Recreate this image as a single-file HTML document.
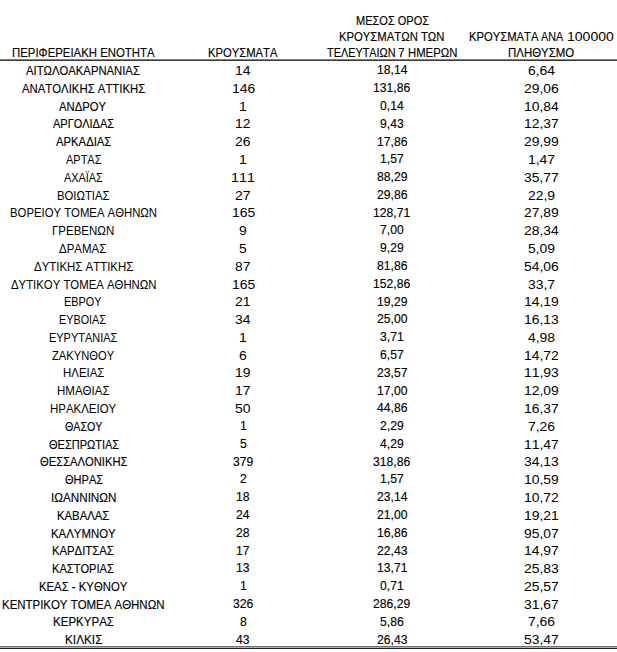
<!DOCTYPE html>
<html><head><meta charset="utf-8"><style>
html,body{margin:0;padding:0;background:#fff;}
body{width:617px;height:652px;position:relative;overflow:hidden;font-family:"Liberation Sans",sans-serif;font-size:13px;line-height:16px;color:#000;font-kerning:none;}
.t{position:absolute;white-space:pre;transform-origin:0 0;}
.c{-webkit-text-stroke:0.15px #000;}
.l{position:absolute;left:0;width:617px;height:1px;}
</style></head><body>
<div class="t c" style="left:11.60px;top:45px;transform:scaleX(0.8754)">ΠΕΡΙΦΕΡΕΙΑΚΗ ΕΝΟΤΗΤΑ</div>
<div class="t c" style="left:207.96px;top:45px;transform:scaleX(0.8651)">ΚΡΟΥΣΜΑΤΑ</div>
<div class="t c" style="left:355.53px;top:13px;transform:scaleX(0.8467)">ΜΕΣΟΣ ΟΡΟΣ</div>
<div class="t c" style="left:339.41px;top:29px;transform:scaleX(0.8685)">ΚΡΟΥΣΜΑΤΩΝ ΤΩΝ</div>
<div class="t c" style="left:326.53px;top:45px;transform:scaleX(0.8357)">ΤΕΛΕΥΤΑΙΩΝ</div>
<div class="t c" style="left:398.18px;top:45px;transform:scaleX(0.9152)">7</div>
<div class="t c" style="left:408.40px;top:45px;transform:scaleX(0.8711)">ΗΜΕΡΩΝ</div>
<div class="t c" style="left:468.71px;top:29px;transform:scaleX(0.8645)">ΚΡΟΥΣΜΑΤΑ</div>
<div class="t c" style="left:541.43px;top:29px;transform:scaleX(0.8282)">ΑΝΑ</div>
<div class="t" style="left:567.24px;top:29px;transform:scaleX(1.0790)">100000</div>
<div class="t c" style="left:508.10px;top:45px;transform:scaleX(0.8786)">ΠΛΗΘΥΣΜΟ</div>
<div class="t c" style="left:26.23px;top:63px;transform:scaleX(0.8680)">ΑΙΤΩΛΟΑΚΑΡΝΑΝΙΑΣ</div>
<div class="t" style="left:235.41px;top:63px;transform:scaleX(1.0700)">14</div>
<div class="t c" style="left:376.68px;top:62px;transform:scaleX(0.9350)">18,14</div>
<div class="t" style="left:528.01px;top:63px;transform:scaleX(1.0700)">6,64</div>
<div class="t c" style="left:21.53px;top:81px;transform:scaleX(0.8735)">ΑΝΑΤΟΛΙΚΗΣ ΑΤΤΙΚΗΣ</div>
<div class="t" style="left:231.54px;top:81px;transform:scaleX(1.0700)">146</div>
<div class="t c" style="left:373.31px;top:80px;transform:scaleX(0.9350)">131,86</div>
<div class="t" style="left:524.14px;top:81px;transform:scaleX(1.0700)">29,06</div>
<div class="t c" style="left:59.23px;top:99px;transform:scaleX(0.8674)">ΑΝΔΡΟΥ</div>
<div class="t" style="left:239.28px;top:99px;transform:scaleX(1.0700)">1</div>
<div class="t c" style="left:380.07px;top:98px;transform:scaleX(0.9350)">0,14</div>
<div class="t" style="left:524.14px;top:99px;transform:scaleX(1.0700)">10,84</div>
<div class="t c" style="left:52.93px;top:116px;transform:scaleX(0.8446)">ΑΡΓΟΛΙΔΑΣ</div>
<div class="t" style="left:235.41px;top:116px;transform:scaleX(1.0700)">12</div>
<div class="t c" style="left:380.07px;top:116px;transform:scaleX(0.9350)">9,43</div>
<div class="t" style="left:524.14px;top:116px;transform:scaleX(1.0700)">12,37</div>
<div class="t c" style="left:55.93px;top:134px;transform:scaleX(0.8690)">ΑΡΚΑΔΙΑΣ</div>
<div class="t" style="left:235.41px;top:134px;transform:scaleX(1.0700)">26</div>
<div class="t c" style="left:376.68px;top:134px;transform:scaleX(0.9350)">17,86</div>
<div class="t" style="left:524.14px;top:134px;transform:scaleX(1.0700)">29,99</div>
<div class="t" style="left:65.63px;top:152px;transform:scaleX(0.8443)">ΑΡΤΑΣ</div>
<div class="t" style="left:239.28px;top:152px;transform:scaleX(1.0700)">1</div>
<div class="t c" style="left:380.07px;top:151px;transform:scaleX(0.9350)">1,57</div>
<div class="t" style="left:528.01px;top:152px;transform:scaleX(1.0700)">1,47</div>
<div class="t" style="left:63.93px;top:170px;transform:scaleX(0.8372)">ΑΧΑΪΑΣ</div>
<div class="t" style="left:230.92px;top:170px;transform:scaleX(1.1051)">111</div>
<div class="t c" style="left:376.68px;top:169px;transform:scaleX(0.9350)">88,29</div>
<div class="t" style="left:524.14px;top:170px;transform:scaleX(1.0700)">35,77</div>
<div class="t" style="left:57.10px;top:188px;transform:scaleX(0.8706)">ΒΟΙΩΤΙΑΣ</div>
<div class="t" style="left:235.41px;top:188px;transform:scaleX(1.0700)">27</div>
<div class="t c" style="left:376.68px;top:187px;transform:scaleX(0.9350)">29,86</div>
<div class="t" style="left:528.01px;top:188px;transform:scaleX(1.0700)">22,9</div>
<div class="t" style="left:9.70px;top:205px;transform:scaleX(0.8719)">ΒΟΡΕΙΟΥ ΤΟΜΕΑ ΑΘΗΝΩΝ</div>
<div class="t" style="left:231.54px;top:205px;transform:scaleX(1.0700)">165</div>
<div class="t c" style="left:373.31px;top:205px;transform:scaleX(0.9350)">128,71</div>
<div class="t" style="left:524.14px;top:205px;transform:scaleX(1.0700)">27,89</div>
<div class="t" style="left:51.59px;top:223px;transform:scaleX(0.8845)">ΓΡΕΒΕΝΩΝ</div>
<div class="t" style="left:239.28px;top:223px;transform:scaleX(1.0700)">9</div>
<div class="t c" style="left:380.07px;top:222px;transform:scaleX(0.9350)">7,00</div>
<div class="t" style="left:524.14px;top:223px;transform:scaleX(1.0700)">28,34</div>
<div class="t" style="left:59.21px;top:241px;transform:scaleX(0.8818)">ΔΡΑΜΑΣ</div>
<div class="t" style="left:239.28px;top:241px;transform:scaleX(1.0700)">5</div>
<div class="t c" style="left:380.07px;top:240px;transform:scaleX(0.9350)">9,29</div>
<div class="t" style="left:528.01px;top:241px;transform:scaleX(1.0700)">5,09</div>
<div class="t" style="left:33.91px;top:259px;transform:scaleX(0.8801)">ΔΥΤΙΚΗΣ ΑΤΤΙΚΗΣ</div>
<div class="t" style="left:235.41px;top:259px;transform:scaleX(1.0700)">87</div>
<div class="t c" style="left:376.68px;top:258px;transform:scaleX(0.9350)">81,86</div>
<div class="t" style="left:524.14px;top:259px;transform:scaleX(1.0700)">54,06</div>
<div class="t" style="left:10.51px;top:277px;transform:scaleX(0.8741)">ΔΥΤΙΚΟΥ ΤΟΜΕΑ ΑΘΗΝΩΝ</div>
<div class="t" style="left:231.54px;top:277px;transform:scaleX(1.0700)">165</div>
<div class="t c" style="left:373.31px;top:276px;transform:scaleX(0.9350)">152,86</div>
<div class="t" style="left:528.01px;top:277px;transform:scaleX(1.0700)">33,7</div>
<div class="t" style="left:64.03px;top:294px;transform:scaleX(0.8379)">ΕΒΡΟΥ</div>
<div class="t" style="left:235.41px;top:294px;transform:scaleX(1.0700)">21</div>
<div class="t c" style="left:376.68px;top:294px;transform:scaleX(0.9350)">19,29</div>
<div class="t" style="left:524.14px;top:294px;transform:scaleX(1.0700)">14,19</div>
<div class="t" style="left:59.34px;top:312px;transform:scaleX(0.8324)">ΕΥΒΟΙΑΣ</div>
<div class="t" style="left:235.41px;top:312px;transform:scaleX(1.0700)">34</div>
<div class="t c" style="left:376.68px;top:311px;transform:scaleX(0.9350)">25,00</div>
<div class="t" style="left:524.14px;top:312px;transform:scaleX(1.0700)">16,13</div>
<div class="t" style="left:48.83px;top:330px;transform:scaleX(0.8428)">ΕΥΡΥΤΑΝΙΑΣ</div>
<div class="t" style="left:239.28px;top:330px;transform:scaleX(1.0700)">1</div>
<div class="t c" style="left:380.07px;top:329px;transform:scaleX(0.9350)">3,71</div>
<div class="t" style="left:528.01px;top:330px;transform:scaleX(1.0700)">4,98</div>
<div class="t" style="left:51.81px;top:348px;transform:scaleX(0.8606)">ΖΑΚΥΝΘΟΥ</div>
<div class="t" style="left:239.28px;top:348px;transform:scaleX(1.0700)">6</div>
<div class="t c" style="left:380.07px;top:347px;transform:scaleX(0.9350)">6,57</div>
<div class="t" style="left:524.14px;top:348px;transform:scaleX(1.0700)">14,72</div>
<div class="t" style="left:62.60px;top:365px;transform:scaleX(0.8786)">ΗΛΕΙΑΣ</div>
<div class="t" style="left:235.41px;top:365px;transform:scaleX(1.0700)">19</div>
<div class="t c" style="left:376.68px;top:365px;transform:scaleX(0.9350)">23,57</div>
<div class="t" style="left:524.14px;top:365px;transform:scaleX(1.0700)">11,93</div>
<div class="t" style="left:57.09px;top:383px;transform:scaleX(0.8856)">ΗΜΑΘΙΑΣ</div>
<div class="t" style="left:235.41px;top:383px;transform:scaleX(1.0700)">17</div>
<div class="t c" style="left:376.68px;top:383px;transform:scaleX(0.9350)">17,00</div>
<div class="t" style="left:524.14px;top:383px;transform:scaleX(1.0700)">12,09</div>
<div class="t" style="left:50.19px;top:401px;transform:scaleX(0.8811)">ΗΡΑΚΛΕΙΟΥ</div>
<div class="t" style="left:235.41px;top:401px;transform:scaleX(1.0700)">50</div>
<div class="t c" style="left:376.68px;top:400px;transform:scaleX(0.9350)">44,86</div>
<div class="t" style="left:524.14px;top:401px;transform:scaleX(1.0700)">16,37</div>
<div class="t c" style="left:64.80px;top:419px;transform:scaleX(0.8223)">ΘΑΣΟΥ</div>
<div class="t c" style="left:239.77px;top:418px;transform:scaleX(0.9350)">1</div>
<div class="t c" style="left:380.07px;top:418px;transform:scaleX(0.9350)">2,29</div>
<div class="t" style="left:528.01px;top:419px;transform:scaleX(1.0700)">7,26</div>
<div class="t c" style="left:48.80px;top:437px;transform:scaleX(0.8462)">ΘΕΣΠΡΩΤΙΑΣ</div>
<div class="t c" style="left:239.77px;top:436px;transform:scaleX(0.9350)">5</div>
<div class="t c" style="left:380.07px;top:436px;transform:scaleX(0.9350)">4,29</div>
<div class="t" style="left:524.14px;top:437px;transform:scaleX(1.0700)">11,47</div>
<div class="t c" style="left:40.00px;top:454px;transform:scaleX(0.8628)">ΘΕΣΣΑΛΟΝΙΚΗΣ</div>
<div class="t c" style="left:233.00px;top:454px;transform:scaleX(0.9350)">379</div>
<div class="t c" style="left:373.31px;top:454px;transform:scaleX(0.9350)">318,86</div>
<div class="t" style="left:524.14px;top:454px;transform:scaleX(1.0700)">34,13</div>
<div class="t c" style="left:64.80px;top:472px;transform:scaleX(0.8497)">ΘΗΡΑΣ</div>
<div class="t c" style="left:239.77px;top:471px;transform:scaleX(0.9350)">2</div>
<div class="t c" style="left:380.07px;top:471px;transform:scaleX(0.9350)">1,57</div>
<div class="t" style="left:524.14px;top:472px;transform:scaleX(1.0700)">10,59</div>
<div class="t c" style="left:50.94px;top:490px;transform:scaleX(0.8982)">ΙΩΑΝΝΙΝΩΝ</div>
<div class="t c" style="left:236.39px;top:489px;transform:scaleX(0.9350)">18</div>
<div class="t c" style="left:376.68px;top:489px;transform:scaleX(0.9350)">23,14</div>
<div class="t" style="left:524.14px;top:490px;transform:scaleX(1.0700)">10,72</div>
<div class="t c" style="left:57.10px;top:508px;transform:scaleX(0.8715)">ΚΑΒΑΛΑΣ</div>
<div class="t c" style="left:236.39px;top:507px;transform:scaleX(0.9350)">24</div>
<div class="t c" style="left:376.68px;top:507px;transform:scaleX(0.9350)">21,00</div>
<div class="t" style="left:524.14px;top:508px;transform:scaleX(1.0700)">19,21</div>
<div class="t c" style="left:51.00px;top:526px;transform:scaleX(0.8766)">ΚΑΛΥΜΝΟΥ</div>
<div class="t c" style="left:236.39px;top:525px;transform:scaleX(0.9350)">28</div>
<div class="t c" style="left:376.68px;top:525px;transform:scaleX(0.9350)">16,86</div>
<div class="t" style="left:524.14px;top:526px;transform:scaleX(1.0700)">95,07</div>
<div class="t c" style="left:52.11px;top:543px;transform:scaleX(0.8688)">ΚΑΡΔΙΤΣΑΣ</div>
<div class="t c" style="left:236.39px;top:543px;transform:scaleX(0.9350)">17</div>
<div class="t c" style="left:376.68px;top:543px;transform:scaleX(0.9350)">22,43</div>
<div class="t" style="left:524.14px;top:543px;transform:scaleX(1.0700)">14,97</div>
<div class="t c" style="left:52.12px;top:561px;transform:scaleX(0.8546)">ΚΑΣΤΟΡΙΑΣ</div>
<div class="t c" style="left:236.39px;top:560px;transform:scaleX(0.9350)">13</div>
<div class="t c" style="left:376.68px;top:560px;transform:scaleX(0.9350)">13,71</div>
<div class="t" style="left:524.14px;top:561px;transform:scaleX(1.0700)">25,83</div>
<div class="t c" style="left:39.20px;top:579px;transform:scaleX(0.8720)">ΚΕΑΣ - ΚΥΘΝΟΥ</div>
<div class="t c" style="left:239.77px;top:578px;transform:scaleX(0.9350)">1</div>
<div class="t c" style="left:380.07px;top:578px;transform:scaleX(0.9350)">0,71</div>
<div class="t" style="left:524.14px;top:579px;transform:scaleX(1.0700)">25,57</div>
<div class="t c" style="left:2.00px;top:597px;transform:scaleX(0.8804)">ΚΕΝΤΡΙΚΟΥ ΤΟΜΕΑ ΑΘΗΝΩΝ</div>
<div class="t c" style="left:233.00px;top:596px;transform:scaleX(0.9350)">326</div>
<div class="t c" style="left:373.31px;top:596px;transform:scaleX(0.9350)">286,29</div>
<div class="t" style="left:524.14px;top:597px;transform:scaleX(1.0700)">31,67</div>
<div class="t c" style="left:52.89px;top:614px;transform:scaleX(0.8866)">ΚΕΡΚΥΡΑΣ</div>
<div class="t c" style="left:239.77px;top:614px;transform:scaleX(0.9350)">8</div>
<div class="t c" style="left:380.07px;top:614px;transform:scaleX(0.9350)">5,86</div>
<div class="t" style="left:528.01px;top:614px;transform:scaleX(1.0700)">7,66</div>
<div class="t c" style="left:64.77px;top:632px;transform:scaleX(0.9065)">ΚΙΛΚΙΣ</div>
<div class="t c" style="left:236.39px;top:632px;transform:scaleX(0.9350)">43</div>
<div class="t c" style="left:376.68px;top:632px;transform:scaleX(0.9350)">26,43</div>
<div class="t" style="left:524.14px;top:632px;transform:scaleX(1.0700)">53,47</div>
<div class="l" style="top:59px;background:#808080"></div>
<div class="l" style="top:60px;background:#3a3a3a"></div>
<div class="l" style="top:646px;background:#707070"></div>
<div class="l" style="top:647px;background:#b0b0b0"></div>
<div class="l" style="top:648px;background:#202020"></div>
</body></html>
